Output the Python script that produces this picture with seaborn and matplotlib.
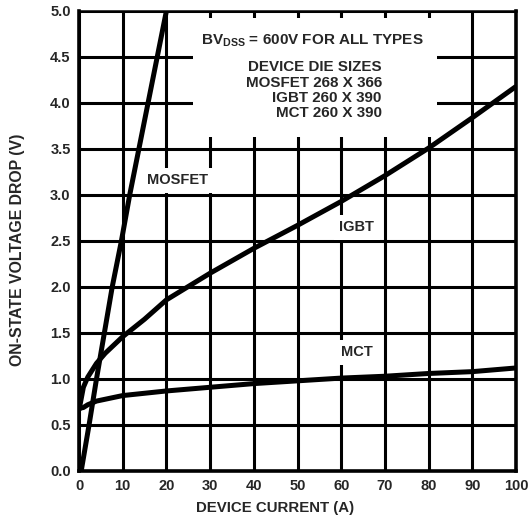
import matplotlib
matplotlib.use("Agg")
import matplotlib.pyplot as plt
import seaborn as sns
import pandas as pd

# On-state voltage drop (V) versus device current (A)
mosfet_v = [0.0, 0.5, 1.0, 1.5, 2.0, 2.5, 3.0, 3.5, 4.0, 4.5, 5.0]
mosfet_i = [0.5, 2.3, 4.0, 5.8, 7.6, 9.7, 11.6, 13.7, 15.8, 17.9, 20.0]

igbt_i = [0, 1, 2, 4, 6, 10, 15, 20, 30, 40, 50, 60, 70, 80, 90, 100]
igbt_v = [0.66, 0.91, 1.02, 1.17, 1.28, 1.46, 1.65, 1.86, 2.15, 2.42, 2.67,
          2.93, 3.21, 3.51, 3.84, 4.18]

mct_i = [0, 1, 2, 4, 10, 20, 30, 40, 50, 60, 70, 80, 90, 100]
mct_v = [0.68, 0.69, 0.72, 0.76, 0.82, 0.87, 0.91, 0.95, 0.98, 1.01, 1.03,
         1.06, 1.08, 1.12]

x_ticks = [0, 10, 20, 30, 40, 50, 60, 70, 80, 90, 100]
y_ticks = [0.0, 0.5, 1.0, 1.5, 2.0, 2.5, 3.0, 3.5, 4.0, 4.5, 5.0]

note_title = "BV$_{\\mathbf{DSS}}$ = 600V FOR ALL TYPES"
note_lines = ["DEVICE DIE SIZES", "MOSFET 268 X 366", "IGBT 260 X 390", "MCT 260 X 390"]
note_y = [4.39, 4.22, 4.05, 3.89]

sns.set_style("white")
plt.rcParams["font.family"] = ["Liberation Sans", "DejaVu Sans"]
plt.rcParams["font.weight"] = "bold"
plt.rcParams["mathtext.fontset"] = "custom"
plt.rcParams["mathtext.rm"] = "Liberation Sans:bold"
plt.rcParams["mathtext.bf"] = "Liberation Sans:bold"

fig = plt.figure(figsize=(5.32, 5.18), dpi=100)
ax = fig.add_axes([79 / 532, 1 - 471 / 518, 437 / 532, 460 / 518])

frames = [
    pd.DataFrame({"current": mosfet_i, "voltage": mosfet_v}),
    pd.DataFrame({"current": igbt_i, "voltage": igbt_v}),
    pd.DataFrame({"current": mct_i, "voltage": mct_v}),
]
for df in frames:
    sns.lineplot(data=df, x="current", y="voltage", ax=ax, color="black",
                 linewidth=3.6, sort=False, estimator=None, zorder=5,
                 solid_capstyle="butt", solid_joinstyle="round")

ax.set_xlim(0, 100)
ax.set_ylim(0, 5.0)
ax.set_xticks(x_ticks)
ax.set_yticks(y_ticks)
ax.set_xticklabels([str(t) for t in x_ticks])
ax.set_yticklabels([f"{t:.1f}" for t in y_ticks])
ax.tick_params(axis="both", length=0, labelsize=10.5)
ax.tick_params(axis="x", pad=6)
ax.tick_params(axis="y", pad=6)
ax.grid(True, color="black", linewidth=2.2)
ax.set_axisbelow(True)
for side, lw in (("left", 2.6), ("bottom", 2.6), ("right", 2.6), ("top", 1.8)):
    ax.spines[side].set_visible(True)
    ax.spines[side].set_color("black")
    ax.spines[side].set_linewidth(lw)

ax.set_xlabel("DEVICE CURRENT (A)", fontsize=10.8, fontweight="bold")
ax.set_ylabel("ON-STATE VOLTAGE DROP (V)", fontsize=11.4, fontweight="bold")
ax.xaxis.set_label_coords(0.449, -0.066)
ax.yaxis.set_label_coords(-0.123, 0.48)

# white panel behind the notes
ax.add_patch(plt.Rectangle((26, 3.63), 56, 1.29, facecolor="white",
                           edgecolor="none", zorder=3))
ax.text(53.5, 4.68, note_title, ha="center", va="center", fontsize=11,
        fontweight="bold", zorder=6)
for line, yv in zip(note_lines, note_y):
    ax.text(69.3, yv, line, ha="right", va="center",
            fontsize=10.9, fontweight="bold", zorder=6)

box = dict(facecolor="white", edgecolor="none", pad=4)
ax.text(22.5, 3.16, "MOSFET", ha="center", va="center", fontsize=10.5,
        fontweight="bold", bbox=box, zorder=6)
ax.text(63.6, 2.65, "IGBT", ha="center", va="center", fontsize=10.5,
        fontweight="bold", bbox=box, zorder=6)
ax.text(63.6, 1.29, "MCT", ha="center", va="center", fontsize=10.5,
        fontweight="bold", bbox=box, zorder=6)

fig.savefig("out.png", dpi=100)
